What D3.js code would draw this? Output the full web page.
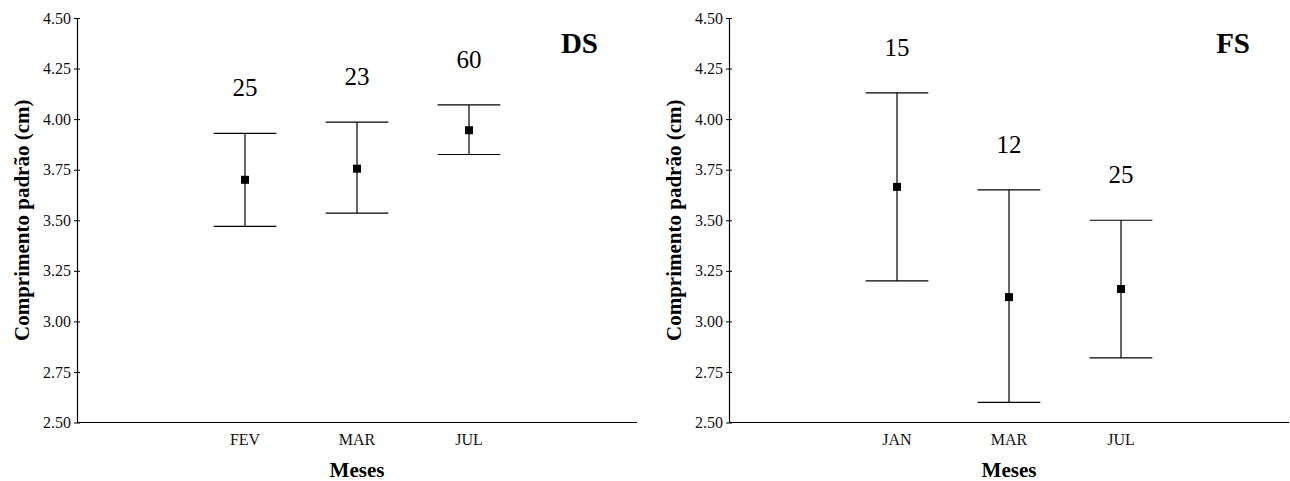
<!DOCTYPE html>
<html>
<head>
<meta charset="utf-8">
<script src="https://cdn.jsdelivr.net/npm/d3@7"></script>
<style>
  body { margin: 0; background: #fff; }
  svg { display: block; }
  svg text { font-family: "Liberation Serif", "Times New Roman", serif; }
</style>
</head>
<body>
<svg id="chart" width="1290" height="481"></svg>
<script>
// DS panel
const dsMonths = ["FEV", "MAR", "JUL"]
const dsMean = [3.70, 3.755, 3.945]
const dsLow = [3.47, 3.535, 3.825]
const dsHigh = [3.93, 3.985, 4.07]
const dsN = [25, 23, 60]

// FS panel
const fsMonths = ["JAN", "MAR", "JUL"]
const fsMean = [3.665, 3.12, 3.16]
const fsLow = [3.20, 2.60, 2.82]
const fsHigh = [4.13, 3.65, 3.50]
const fsN = [15, 12, 25]

const yTicks = [2.50, 2.75, 3.00, 3.25, 3.50, 3.75, 4.00, 4.25, 4.50]

const W = 560
const H = 404.5
const CAP = 0.28   // half cap width in x units

var svg = d3.select("#chart")

function drawPanel(offX, title, months, mean, low, high, n) {
    var g = svg.append("g").attr("transform", "translate(" + offX + ",18)")

    // categories sit at 1.5, 2.5, 3.5 on a 0..5 axis
    var x = d3.scaleLinear().domain([0, 5]).range([0, W])
    var y = d3.scaleLinear().domain([2.5, 4.5]).range([H, 0])
    var pos = (d, i) => x(i + 1.5)

    // y axis
    var yAxis = g.append("g")
        .call(d3.axisLeft(y).tickValues(yTicks).tickFormat(d3.format(".2f")).tickSizeInner(3).tickSizeOuter(0))
    yAxis.attr("font-family", null)
    yAxis.select(".domain").attr("stroke", "#000").attr("stroke-width", 1.2)
    yAxis.selectAll(".tick line").attr("x1", 3).attr("x2", -3).attr("stroke", "#000")
    yAxis.selectAll(".tick text")
        .attr("x", -6)
        .attr("font-size", 16)
        .attr("fill", "#111")

    // x axis line
    g.append("line")
        .attr("x1", x(0)).attr("x2", x(5))
        .attr("y1", y(2.5)).attr("y2", y(2.5))
        .attr("stroke", "#000").attr("stroke-width", 1.2)

    g.selectAll("text.cat").data(months).enter().append("text")
        .attr("class", "cat")
        .attr("x", pos)
        .attr("y", y(2.5) + 22)
        .attr("text-anchor", "middle")
        .attr("font-size", 16)
        .attr("fill", "#111")
        .text(d => d)

    // error bars
    var bars = g.selectAll("g.bar").data(months).enter().append("g").attr("class", "bar")
    bars.append("line")
        .attr("x1", pos).attr("x2", pos)
        .attr("y1", (d, i) => y(high[i])).attr("y2", (d, i) => y(low[i]))
        .attr("stroke", "#000").attr("stroke-width", 1.2)
    bars.append("line")
        .attr("x1", (d, i) => x(i + 1.5 - CAP)).attr("x2", (d, i) => x(i + 1.5 + CAP))
        .attr("y1", (d, i) => y(high[i])).attr("y2", (d, i) => y(high[i]))
        .attr("stroke", "#000").attr("stroke-width", 1.2)
    bars.append("line")
        .attr("x1", (d, i) => x(i + 1.5 - CAP)).attr("x2", (d, i) => x(i + 1.5 + CAP))
        .attr("y1", (d, i) => y(low[i])).attr("y2", (d, i) => y(low[i]))
        .attr("stroke", "#000").attr("stroke-width", 1.2)
    bars.append("rect")
        .attr("x", (d, i) => pos(d, i) - 4)
        .attr("y", (d, i) => y(mean[i]) - 4)
        .attr("width", 8).attr("height", 8)
        .attr("fill", "#000")

    // sample sizes above bars
    bars.append("text")
        .attr("x", pos)
        .attr("y", (d, i) => y(high[i]) - 37)
        .attr("text-anchor", "middle")
        .attr("font-size", 25)
        .attr("fill", "#000")
        .text((d, i) => n[i])

    // panel title
    g.append("text")
        .attr("x", W - 39)
        .attr("y", 35)
        .attr("text-anchor", "end")
        .attr("font-size", 29)
        .attr("font-weight", "bold")
        .text(title)

    // axis titles
    g.append("text")
        .attr("transform", "translate(-55," + (H / 2) + ") rotate(-90)")
        .attr("text-anchor", "middle")
        .attr("dominant-baseline", "central")
        .attr("font-size", 21)
        .attr("font-weight", "bold")
        .text("Comprimento padrão (cm)")
    g.append("text")
        .attr("x", x(2.5))
        .attr("y", H + 54)
        .attr("text-anchor", "middle")
        .attr("font-size", 21)
        .attr("font-weight", "bold")
        .text("Meses")
}

drawPanel(77, "DS", dsMonths, dsMean, dsLow, dsHigh, dsN)
drawPanel(729, "FS", fsMonths, fsMean, fsLow, fsHigh, fsN)
</script>
</body>
</html>
